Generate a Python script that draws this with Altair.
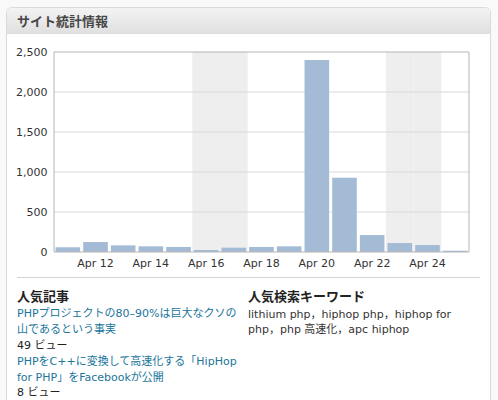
import altair as alt
import pandas as pd

# ---- data ----
days = ["Apr 11", "Apr 12", "Apr 13", "Apr 14", "Apr 15", "Apr 16", "Apr 17", "Apr 18",
        "Apr 19", "Apr 20", "Apr 21", "Apr 22", "Apr 23", "Apr 24", "Apr 25"]
views = [59, 125, 83, 71, 63, 25, 54, 63, 71, 2400, 929, 212, 112, 87, 16]
shaded_days = ["Apr 16", "Apr 17", "Apr 23", "Apr 24"]
x_tick_labels = ["Apr 12", "Apr 14", "Apr 16", "Apr 18", "Apr 20", "Apr 22", "Apr 24"]
y_tick_values = [0, 500, 1000, 1500, 2000, 2500]
grid_values = [500, 1000, 1500, 2000]

header_title = "サイト統計情報"
posts_heading = "人気記事"
post_lines = ["PHPプロジェクトの80–90%は巨大なクソの", "山であるという事実"]
post1_views = "49 ビュー"
post2_lines = ["PHPをC++に変換して高速化する「HipHop", "for PHP」をFacebookが公開"]
post2_views = "8 ビュー"
keywords_heading = "人気検索キーワード"
keyword_lines = ["lithium php，hiphop php，hiphop for", "php，php 高速化，apc hiphop"]

# ---- style ----
W, H = 415, 200
BODY_FONT = "DejaVu Sans, Noto Sans CJK JP"
CJK_FONT = "Noto Sans CJK JP"
LINK = "#21759b"
BAR = "#a4bbd5"

one = pd.DataFrame({"k": [0]})
df = pd.DataFrame({"day": days, "views": views})
xscale = alt.Scale(domain=days, paddingInner=0, paddingOuter=0)
yscale = alt.Scale(domain=[0, 2500], nice=False)

card = alt.Chart(one).mark_rect(fill="white", stroke="#dadada", strokeWidth=1, cornerRadius=5).encode(
    x=alt.value(-47.5), x2=alt.value(436.5), y=alt.value(-44.5), y2=alt.value(360))

header = alt.Chart(one).mark_rect(
    fill=alt.LinearGradient(gradient="linear", x1=0, x2=0, y1=0, y2=1,
                            stops=[alt.GradientStop(color="#f3f3f3", offset=0),
                                   alt.GradientStop(color="#e0e0e0", offset=1)]),
    cornerRadiusTopLeft=4, cornerRadiusTopRight=4).encode(
    x=alt.value(-47), x2=alt.value(436), y=alt.value(-44), y2=alt.value(-19))

header_line = alt.Chart(one).mark_rule(color="#dcdcdc").encode(
    x=alt.value(-47), x2=alt.value(436), y=alt.value(-18.5))


def text_layer(s, x, y, color="#333333", size=11, weight="normal", font=BODY_FONT):
    return alt.Chart(pd.DataFrame({"t": [s]})).mark_text(
        align="left", baseline="middle", fontSize=size, fontWeight=weight,
        font=font, color=color).encode(x=alt.value(x), y=alt.value(y), text="t:N")


title = text_layer(header_title, -37, -30.5, color="#464646", size=13, weight="bold", font=CJK_FONT)

x_axis = alt.Axis(values=x_tick_labels, labelAngle=0, labelPadding=5, zindex=2,
                  grid=False, domain=False, ticks=False)
y_axis = alt.Axis(values=y_tick_values, format=",.0f", labelPadding=7, zindex=2,
                  grid=False, domain=False, ticks=False)

bands = alt.Chart(pd.DataFrame({"day": shaded_days})).mark_rect(color="#eeeeee").encode(
    x=alt.X("day:N", scale=xscale, title=None, axis=x_axis),
    y=alt.value(0), y2=alt.value(H))

grid = alt.Chart(pd.DataFrame({"v": grid_values})).mark_rule(color="#d9d9d9").encode(
    y=alt.Y("v:Q", scale=yscale, title=None, axis=y_axis),
    x=alt.value(0), x2=alt.value(W))

bars = alt.Chart(df).mark_bar(color=BAR, width={"band": 0.89}).encode(
    x=alt.X("day:N", scale=xscale, title=None, axis=x_axis),
    y=alt.Y("views:Q", scale=yscale, title=None, axis=y_axis))

frame = alt.Chart(one).mark_rect(fill=None, stroke="#b5b5b5", strokeWidth=1).encode(
    x=alt.value(0), x2=alt.value(W), y=alt.value(0), y2=alt.value(H))

sep = alt.Chart(one).mark_rule(color="#d4d4d4").encode(
    x=alt.value(-37), x2=alt.value(426), y=alt.value(225.5))

texts = [
    text_layer(posts_heading, -37, 244.5, color="#222222", size=13, weight="bold", font=CJK_FONT),
    text_layer(post_lines[0], -37, 262, color=LINK),
    text_layer(post_lines[1], -37, 278, color=LINK),
    text_layer(post1_views, -37, 294, color="#222222"),
    text_layer(post2_lines[0], -37, 310, color=LINK),
    text_layer(post2_lines[1], -37, 325.5, color=LINK),
    text_layer(post2_views, -37, 341, color="#222222"),
    text_layer(keywords_heading, 194, 245, color="#222222", size=13, weight="bold", font=CJK_FONT),
    text_layer(keyword_lines[0], 194, 263),
    text_layer(keyword_lines[1], 194, 278),
]

chart = alt.layer(card, header, header_line, title, bands, grid, bars, frame, sep, *texts).properties(
    width=W, height=H,
    padding={"left": 54, "top": 52, "right": 29, "bottom": 148},
    autosize=alt.AutoSizeParams(type="none"),
    background="#f9f9f9",
).configure_view(stroke=None).configure_axis(
    labelFont="DejaVu Sans", labelFontSize=11, labelColor="#333333",
)

chart.save("out.html", embed_options={"renderer": "svg", "actions": False})
